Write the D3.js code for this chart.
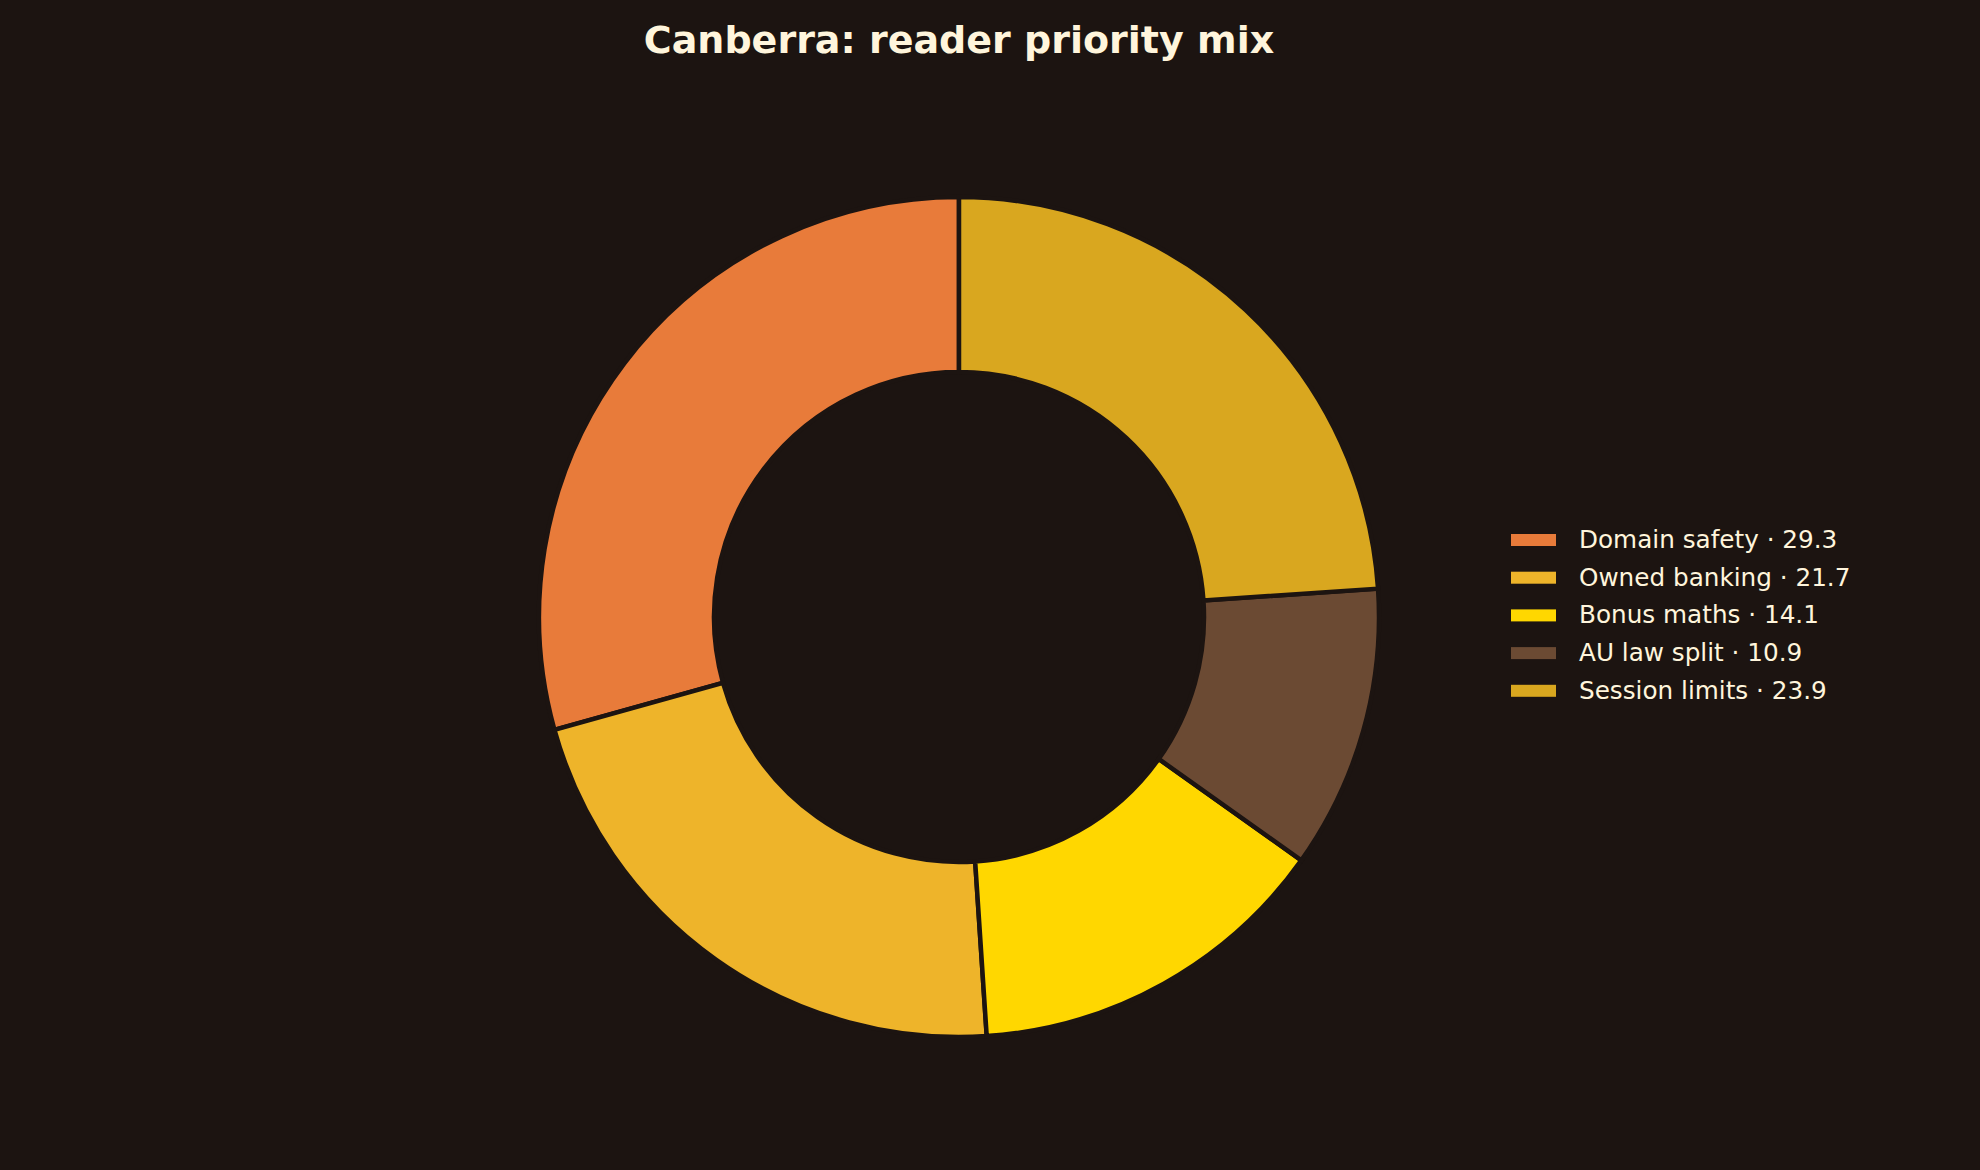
<!DOCTYPE html>
<html>
<head>
<meta charset="utf-8">
<script src="https://cdn.jsdelivr.net/npm/d3@7"></script>
<style>
  html, body { margin: 0; padding: 0; background: #1c1411; }
  svg { display: block; }
</style>
</head>
<body>
<div id="canvas"></div>
<script>
// data
var categories = ['Domain safety', 'Owned banking', 'Bonus maths', 'AU law split', 'Session limits'];
var values = [29.3, 21.7, 14.1, 10.9, 23.9];
var colors = ['#e87b3a', '#eeb42a', '#ffd700', '#6b4a33', '#d9a71f'];
var title = 'Canberra: reader priority mix';

var width = 1980, height = 1170;
var bg = '#1c1411', ink = '#fff5dc';
var cx = 959, cy = 617, outerR = 420, innerR = 245;

var svg = d3.select('#canvas').append('svg')
  .attr('width', width)
  .attr('height', height);

svg.append('rect')
  .attr('width', width).attr('height', height)
  .attr('fill', bg);

svg.append('text')
  .attr('x', cx).attr('y', 53)
  .attr('text-anchor', 'middle')
  .style('font-family', 'DejaVu Sans')
  .style('font-weight', 'bold')
  .style('font-size', '38px')
  .attr('fill', ink)
  .text(title);

var data = categories.map(function (c, i) { return {name: c, value: values[i], color: colors[i]}; });

// counterclockwise from 12 o'clock, like the original
var pie = d3.pie().sort(null).value(d => d.value)
  .startAngle(0).endAngle(-2 * Math.PI);
var arc = d3.arc().innerRadius(innerR).outerRadius(outerR);

var g = svg.append('g').attr('transform', 'translate(' + cx + ',' + cy + ')');
g.selectAll('path')
  .data(pie(data))
  .enter()
  .append('path')
  .attr('d', arc)
  .attr('fill', d => d.data.color)
  .attr('stroke', bg)
  .attr('stroke-width', 4.5)
  .attr('stroke-linejoin', 'miter');

// legend
var legX = 1511, legY = 540, rowH = 37.7;
var leg = svg.append('g');
var rows = leg.selectAll('g.row')
  .data(data)
  .enter()
  .append('g')
  .attr('class', 'row')
  .attr('transform', (d, i) => 'translate(' + legX + ',' + (legY + i * rowH) + ')');

rows.append('rect')
  .attr('x', 0).attr('y', -6)
  .attr('width', 45).attr('height', 12)
  .attr('fill', d => d.color);

rows.append('text')
  .attr('x', 68).attr('y', 8)
  .style('font-family', 'DejaVu Sans')
  .style('font-size', '24.7px')
  .attr('fill', ink)
  .text(d => d.name + ' \u00b7 ' + d.value.toFixed(1));
</script>
</body>
</html>
